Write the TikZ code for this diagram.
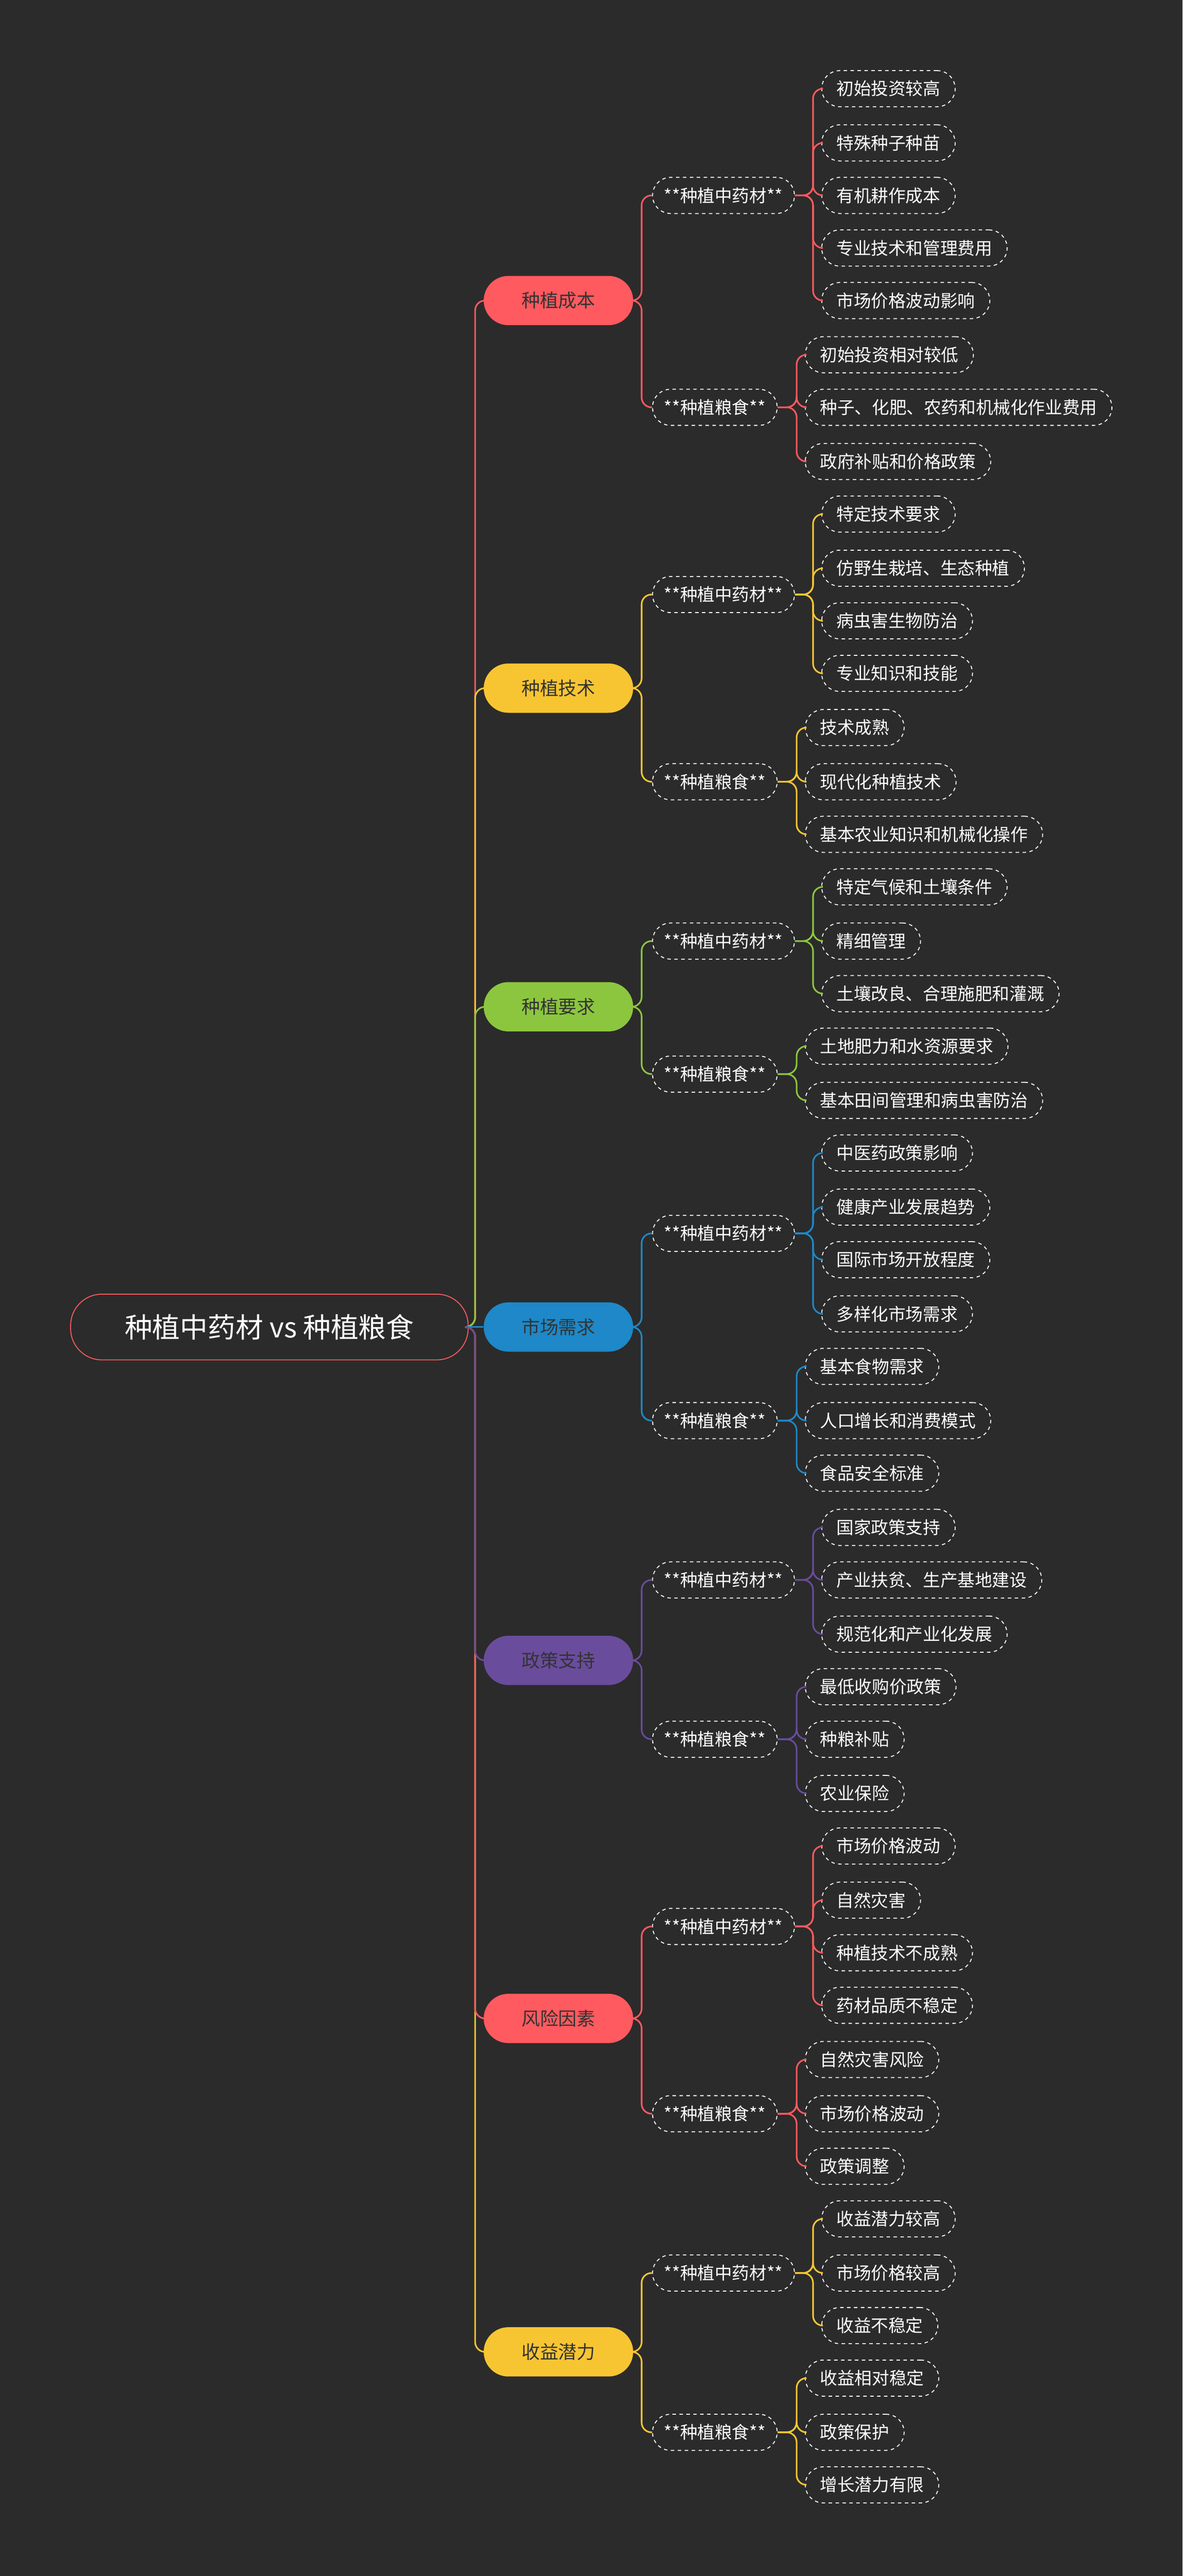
\documentclass[tikz,border=0pt]{standalone}
\usepackage{fontspec}
\setmainfont{Noto Sans CJK SC}
\usepackage{tikz}

\definecolor{bgdark}{HTML}{2B2B2B}
\definecolor{cred}{HTML}{FF5A5F}
\definecolor{cyellow}{HTML}{F8C532}
\definecolor{cgreen}{HTML}{8CC63F}
\definecolor{cblue}{HTML}{1E88C8}
\definecolor{cpurple}{HTML}{6A4C9C}

\tikzset{
  rootbox/.style={draw=cred, thick, rounded corners=0.95cm, text=white, minimum width=12.1cm, minimum height=2cm, font=\fontsize{24}{28}\selectfont},
  topicbox/.style={fill=#1, text=black!80, rounded corners=0.75cm, minimum width=4.55cm, minimum height=1.5cm, font=\fontsize{16}{19}\selectfont},
  groupbox/.style={draw=white!85, dashed, thick, rounded corners=0.55cm, text=white, minimum height=1.1cm, inner xsep=0.35cm, font=\fontsize{15}{18}\selectfont, anchor=west},
  leafbox/.style={draw=white!85, dashed, thick, rounded corners=0.55cm, text=white, minimum height=1.1cm, inner xsep=0.45cm, font=\fontsize{15}{18}\selectfont, anchor=west},
  wire/.style={line width=1.4pt, rounded corners=0.3cm, draw=#1},
}

% one group: \leafgroup{name}{colour}{x of box}{y}{x of leaves}{leaf list}
\newcommand{\leafgroup}[6]{%
  \foreach \t/\yy [count=\i] in {#6}{%
    \node[leafbox] (#1-\i) at (#5,\yy) {\t};%
    \draw[wire=#2] (#1.east) -- (#5-5,#4) |- (#1-\i.west);%
  }%
}

\begin{document}
\begin{tikzpicture}[x=0.05cm, y=-0.05cm]
  \fill[bgdark] (0,0) rectangle (720,1568.5);
  \useasboundingbox (0,0) rectangle (720,1568.5);

  \node[rootbox] (root) at (164,808) {种植中药材 vs 种植粮食};

  \node[topicbox=cred]    (cost)   at (340,183)  {种植成本};
  \node[topicbox=cyellow] (tech)   at (340,419)  {种植技术};
  \node[topicbox=cgreen]  (req)    at (340,613)  {种植要求};
  \node[topicbox=cblue]   (market) at (340,808)  {市场需求};
  \node[topicbox=cpurple] (policy) at (340,1011) {政策支持};
  \node[topicbox=cred]    (risk)   at (340,1229) {风险因素};
  \node[topicbox=cyellow] (gain)   at (340,1432) {收益潜力};

  % trunk, outer branches first
  \draw[wire=cred]    (root.east) -- ++(4,0) |- (cost.west);
  \draw[wire=cyellow] (root.east) -- ++(4,0) |- (tech.west);
  \draw[wire=cgreen]  (root.east) -- ++(4,0) |- (req.west);
  \draw[wire=cyellow] (root.east) -- ++(4,0) |- (gain.west);
  \draw[wire=cred]    (root.east) -- ++(4,0) |- (risk.west);
  \draw[wire=cpurple] (root.east) -- ++(4,0) |- (policy.west);
  \draw[wire=cblue]   (root.east) -- (market.west);

  % 种植成本
  \node[groupbox] (costA) at (397,119) {**种植中药材**};
  \node[groupbox] (costB) at (397,248) {**种植粮食**};
  \draw[wire=cred] (cost.east) -- ++(5,0) |- (costA.west);
  \draw[wire=cred] (cost.east) -- ++(5,0) |- (costB.west);
  \leafgroup{costA}{cred}{397}{119}{500}{初始投资较高/54, 特殊种子种苗/87, 有机耕作成本/119, 专业技术和管理费用/151, 市场价格波动影响/183}
  \leafgroup{costB}{cred}{397}{248}{490}{初始投资相对较低/216, 种子、化肥、农药和机械化作业费用/248, 政府补贴和价格政策/281}

  % 种植技术
  \node[groupbox] (techA) at (397,362) {**种植中药材**};
  \node[groupbox] (techB) at (397,476) {**种植粮食**};
  \draw[wire=cyellow] (tech.east) -- ++(5,0) |- (techA.west);
  \draw[wire=cyellow] (tech.east) -- ++(5,0) |- (techB.west);
  \leafgroup{techA}{cyellow}{397}{362}{500}{特定技术要求/313, 仿野生栽培、生态种植/346, 病虫害生物防治/378, 专业知识和技能/410}
  \leafgroup{techB}{cyellow}{397}{476}{490}{技术成熟/443, 现代化种植技术/476, 基本农业知识和机械化操作/508}

  % 种植要求
  \node[groupbox] (reqA) at (397,573) {**种植中药材**};
  \node[groupbox] (reqB) at (397,654) {**种植粮食**};
  \draw[wire=cgreen] (req.east) -- ++(5,0) |- (reqA.west);
  \draw[wire=cgreen] (req.east) -- ++(5,0) |- (reqB.west);
  \leafgroup{reqA}{cgreen}{397}{573}{500}{特定气候和土壤条件/540, 精细管理/573, 土壤改良、合理施肥和灌溉/605}
  \leafgroup{reqB}{cgreen}{397}{654}{490}{土地肥力和水资源要求/637, 基本田间管理和病虫害防治/670}

  % 市场需求
  \node[groupbox] (marketA) at (397,751) {**种植中药材**};
  \node[groupbox] (marketB) at (397,865) {**种植粮食**};
  \draw[wire=cblue] (market.east) -- ++(5,0) |- (marketA.west);
  \draw[wire=cblue] (market.east) -- ++(5,0) |- (marketB.west);
  \leafgroup{marketA}{cblue}{397}{751}{500}{中医药政策影响/702, 健康产业发展趋势/735, 国际市场开放程度/767, 多样化市场需求/800}
  \leafgroup{marketB}{cblue}{397}{865}{490}{基本食物需求/832, 人口增长和消费模式/865, 食品安全标准/897}

  % 政策支持
  \node[groupbox] (policyA) at (397,962)  {**种植中药材**};
  \node[groupbox] (policyB) at (397,1059) {**种植粮食**};
  \draw[wire=cpurple] (policy.east) -- ++(5,0) |- (policyA.west);
  \draw[wire=cpurple] (policy.east) -- ++(5,0) |- (policyB.west);
  \leafgroup{policyA}{cpurple}{397}{962}{500}{国家政策支持/930, 产业扶贫、生产基地建设/962, 规范化和产业化发展/995}
  \leafgroup{policyB}{cpurple}{397}{1059}{490}{最低收购价政策/1027, 种粮补贴/1059, 农业保险/1092}

  % 风险因素
  \node[groupbox] (riskA) at (397,1173) {**种植中药材**};
  \node[groupbox] (riskB) at (397,1287) {**种植粮食**};
  \draw[wire=cred] (risk.east) -- ++(5,0) |- (riskA.west);
  \draw[wire=cred] (risk.east) -- ++(5,0) |- (riskB.west);
  \leafgroup{riskA}{cred}{397}{1173}{500}{市场价格波动/1124, 自然灾害/1157, 种植技术不成熟/1189, 药材品质不稳定/1221}
  \leafgroup{riskB}{cred}{397}{1287}{490}{自然灾害风险/1254, 市场价格波动/1287, 政策调整/1319}

  % 收益潜力
  \node[groupbox] (gainA) at (397,1384) {**种植中药材**};
  \node[groupbox] (gainB) at (397,1481) {**种植粮食**};
  \draw[wire=cyellow] (gain.east) -- ++(5,0) |- (gainA.west);
  \draw[wire=cyellow] (gain.east) -- ++(5,0) |- (gainB.west);
  \leafgroup{gainA}{cyellow}{397}{1384}{500}{收益潜力较高/1351, 市场价格较高/1384, 收益不稳定/1416}
  \leafgroup{gainB}{cyellow}{397}{1481}{490}{收益相对稳定/1448, 政策保护/1481, 增长潜力有限/1513}
\end{tikzpicture}
\end{document}
